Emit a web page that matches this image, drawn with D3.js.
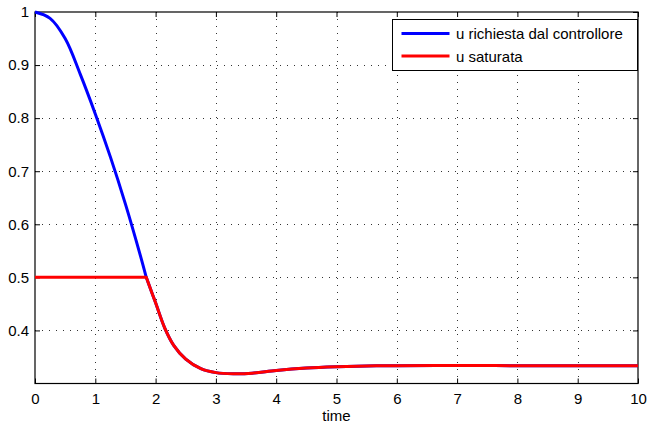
<!DOCTYPE html>
<html>
<head>
<meta charset="utf-8">
<script src="https://cdn.jsdelivr.net/npm/d3@7"></script>
<style>
  body { margin: 0; background: #fff; }
  svg text { font-family: "Liberation Sans", Arial, sans-serif; font-size: 15px; fill: #000; }
</style>
</head>
<body>
<div id="chart"></div>
<script>
// data
var timeReq = [0, 0.25, 0.5, 0.75, 1.0, 1.25, 1.5, 1.75, 1.845];
var uReq = [1.0, 0.988, 0.95, 0.883, 0.808, 0.727, 0.638, 0.54, 0.5];

// after saturation ends both signals coincide
var timeTail = [1.845, 2.0, 2.15, 2.3, 2.5, 2.75, 3.0, 3.3, 3.6, 4.0, 4.5, 5.0, 5.5, 6.0, 7.0, 8.0, 9.0, 10.0];
var uTail = [0.5, 0.452, 0.405, 0.372, 0.346, 0.328, 0.3205, 0.3185, 0.3195, 0.3245, 0.329, 0.3315, 0.333, 0.3336, 0.3339, 0.3336, 0.3334, 0.3333];

var timeSat = [0, 1.845];
var uSat = [0.5, 0.5];

var xTicks = [0, 1, 2, 3, 4, 5, 6, 7, 8, 9, 10];
var yTicks = [0.4, 0.5, 0.6, 0.7, 0.8, 0.9, 1];

var seriesNames = ["u richiesta dal controllore", "u saturata"];
var seriesColors = ["#0000ff", "#ff0000"];

var W = 649, H = 425;
var margin = {top: 12, right: 11, bottom: 41.5, left: 35};
var width = W - margin.left - margin.right;
var height = H - margin.top - margin.bottom;

var svg = d3.select("#chart").append("svg")
  .attr("width", W).attr("height", H);
var g = svg.append("g")
  .attr("transform", "translate(" + margin.left + "," + margin.top + ")");

var x = d3.scaleLinear().domain([0, 10]).range([0, width]);
var y = d3.scaleLinear().domain([0.3, 1]).range([height, 0]);

// dotted grid
g.append("g").selectAll("line").data(xTicks.slice(1, -1)).enter().append("line")
  .attr("x1", function(d) { return Math.round(x(d)) + 0.5; })
  .attr("x2", function(d) { return Math.round(x(d)) + 0.5; })
  .attr("y1", 0).attr("y2", height)
  .attr("stroke", "#333").attr("stroke-width", 1).attr("stroke-dasharray", "1,6");
g.append("g").selectAll("line").data(yTicks.slice(0, -1)).enter().append("line")
  .attr("y1", function(d) { return Math.round(y(d)) + 0.5; })
  .attr("y2", function(d) { return Math.round(y(d)) + 0.5; })
  .attr("x1", 0).attr("x2", width)
  .attr("stroke", "#333").attr("stroke-width", 1).attr("stroke-dasharray", "1,6");

// axes, ticks inside, on all four sides
var xb = g.append("g").attr("transform", "translate(0," + height + ")")
  .call(d3.axisBottom(x).tickValues(xTicks).tickSizeInner(-5).tickSizeOuter(0).tickPadding(10));
var xt = g.append("g")
  .call(d3.axisTop(x).tickValues(xTicks).tickSizeInner(-5).tickSizeOuter(0).tickFormat(""));
var yl = g.append("g")
  .call(d3.axisLeft(y).tickValues(yTicks).tickSizeInner(-5).tickSizeOuter(0).tickPadding(6).tickFormat(d3.format("")));
var yr = g.append("g").attr("transform", "translate(" + width + ",0)")
  .call(d3.axisRight(y).tickValues(yTicks).tickSizeInner(-5).tickSizeOuter(0).tickFormat(""));
[xb, xt, yl, yr].forEach(function(a) {
  a.select(".domain").remove();
  a.selectAll("line").attr("stroke", "#000");
  a.selectAll("text").attr("font-size", 15).attr("font-family", "Liberation Sans, Arial, sans-serif");
});

g.append("rect").attr("x", 0).attr("y", 0).attr("width", width).attr("height", height)
  .attr("fill", "none").attr("stroke", "#000").attr("stroke-width", 1.2);

// curves
var line = d3.line()
  .x(function(d) { return x(d[0]); })
  .y(function(d) { return y(d[1]); })
  .curve(d3.curveCatmullRom.alpha(0.5));

var satHead = d3.zip(timeSat, uSat);
var tailData = d3.zip(timeTail, uTail);

// requested signal: smooth before the knee, smooth after it
g.append("path")
  .attr("d", line(d3.zip(timeReq, uReq)) + line(tailData).replace(/^M/, "L"))
  .attr("fill", "none").attr("stroke", seriesColors[0]).attr("stroke-width", 3)
  .attr("stroke-linejoin", "round");
// saturated signal drawn on top
g.append("path")
  .attr("d", d3.line().x(function(d) { return x(d[0]); }).y(function(d) { return y(d[1]); })(satHead)
    + line(tailData).replace(/^M/, "L"))
  .attr("fill", "none").attr("stroke", seriesColors[1]).attr("stroke-width", 3)
  .attr("stroke-linejoin", "round");

// x label
svg.append("text").attr("x", margin.left + width / 2).attr("y", 421)
  .attr("text-anchor", "middle").text("time");

// legend
var leg = svg.append("g").attr("transform", "translate(392.5,19.5)");
leg.append("rect").attr("width", 245).attr("height", 51)
  .attr("fill", "#fff").attr("stroke", "#000").attr("stroke-width", 1);
seriesNames.forEach(function(name, i) {
  var yy = 14 + i * 22.5;
  leg.append("line").attr("x1", 9).attr("x2", 57).attr("y1", yy).attr("y2", yy)
    .attr("stroke", seriesColors[i]).attr("stroke-width", 3);
  leg.append("text").attr("x", 63.5).attr("y", yy + 5.5).attr("font-size", 15.5).text(name);
});
</script>
</body>
</html>
